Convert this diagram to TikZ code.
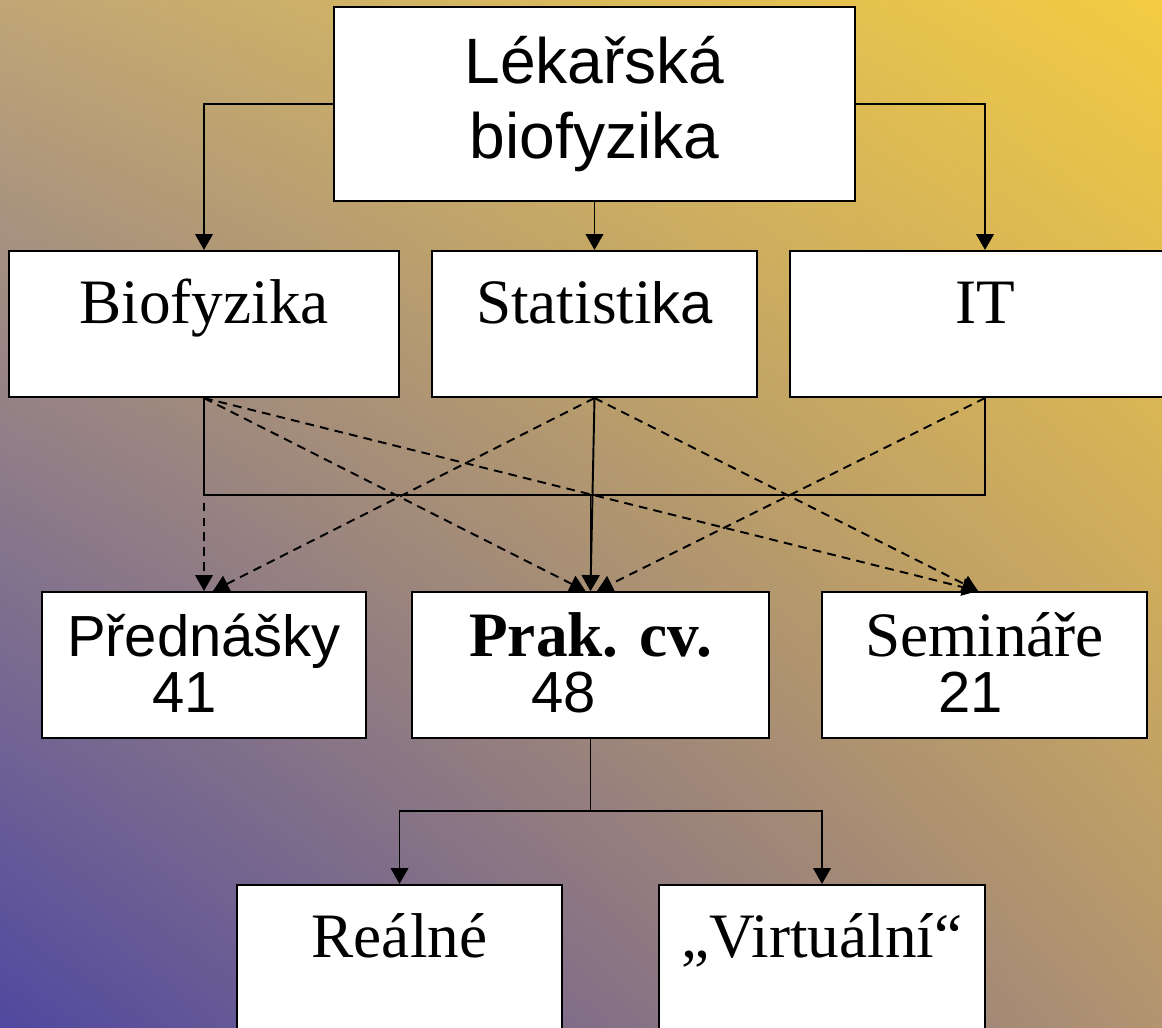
\documentclass[tikz,border=0pt]{standalone}
\usepackage{fontspec}
\setmainfont{Liberation Serif}
\setsansfont{Liberation Sans}
\usetikzlibrary{arrows.meta,shadings}

\definecolor{bgul}{RGB}{192,166,118}
\definecolor{bgur}{RGB}{243,204,66}
\definecolor{bgll}{RGB}{80,72,160}
\definecolor{bglr}{RGB}{178,148,112}

\begin{document}
\begin{tikzpicture}
\tikzstyle{box}=[rectangle, draw, line width=1.2pt, fill=white, align=center,
                 inner sep=0pt, font=\fontsize{36pt}{32pt}\selectfont]
\tikzstyle{cell}=[box, text height=.8em, text depth=.8em, minimum height=2.92cm]
\tikzstyle{two}=[cell, text height=1.9cm, text depth=-1.48cm]
\tikzstyle{lnk}=[line width=1.1pt, -{Triangle[length=9pt,width=10pt]}]
\tikzstyle{dsh}=[lnk, dash pattern=on 5pt off 3.5pt]
\newcommand{\sfnum}{\sffamily\fontsize{33pt}{32pt}\selectfont}

\clip (0,0) rectangle (23.24,20.56);
\shade[lower left=bgll, upper left=bgul, upper right=bgur, lower right=bglr]
  (0,0) rectangle (23.24,20.56);

\node[box, minimum width=10.42cm, minimum height=3.88cm,
      font=\sffamily\fontsize{36.5pt}{43pt}\selectfont] (LB) at (11.89,18.48) {Lékařská\\biofyzika};
\node[cell, minimum width=7.8cm] (BF) at (4.08,14.08) {Biofyzika};
\node[cell, minimum width=6.5cm] (ST) at (11.89,14.08) {Statisti{\sfnum ka}};
\node[cell, minimum width=7.8cm] (IT) at (19.70,14.08) {IT};
\node[two, minimum width=6.48cm, font=\sfnum] (PR) at (4.08,7.26) {Přednášky\\41\kern.76cm};
\node[two, minimum width=7.14cm] (PC) at (11.81,7.26) {\textbf{Prak. cv.}\\{\sfnum 48}\kern1.08cm};
\node[two, minimum width=6.5cm] (SE) at (19.69,7.26) {Semináře\\{\sfnum 21}\kern.56cm};
\node[cell, minimum width=6.5cm] (RE) at (7.99,1.40) {Reálné};
\node[cell, minimum width=6.52cm] (VI) at (16.44,1.40) {„Virtuální“};

\coordinate (bus) at (11.81,10.68);
\coordinate (fk) at (11.81,4.34);

\draw[lnk] (LB.west) -| (BF.north);
\draw[lnk] (LB.south) -- (ST.north);
\draw[lnk] (LB.east) -| (IT.north);

\draw[line width=1.1pt] (BF.south) -- ++(0,-1.94) -| (IT.south);
\draw[lnk] (ST.south) -- (PC.north);
\draw[lnk] (bus) -- (PC.north);
%\draw[dsh] (BF.south) -- (PR.north);
\foreach \a/\b/\s in {BF/PR/0, BF/PC/-0.1, BF/SE/-0.13, ST/PR/0.18, ST/SE/-0.13, IT/PC/0.13}{
  \draw[dsh] (\a.south) -- ([xshift=\s cm]\b.north);}

\draw[line width=1.1pt] (PC.south) -- (fk);
\draw[lnk] (fk) -| (RE.north);
\draw[lnk] (fk) -| (VI.north);
\end{tikzpicture}
\end{document}
